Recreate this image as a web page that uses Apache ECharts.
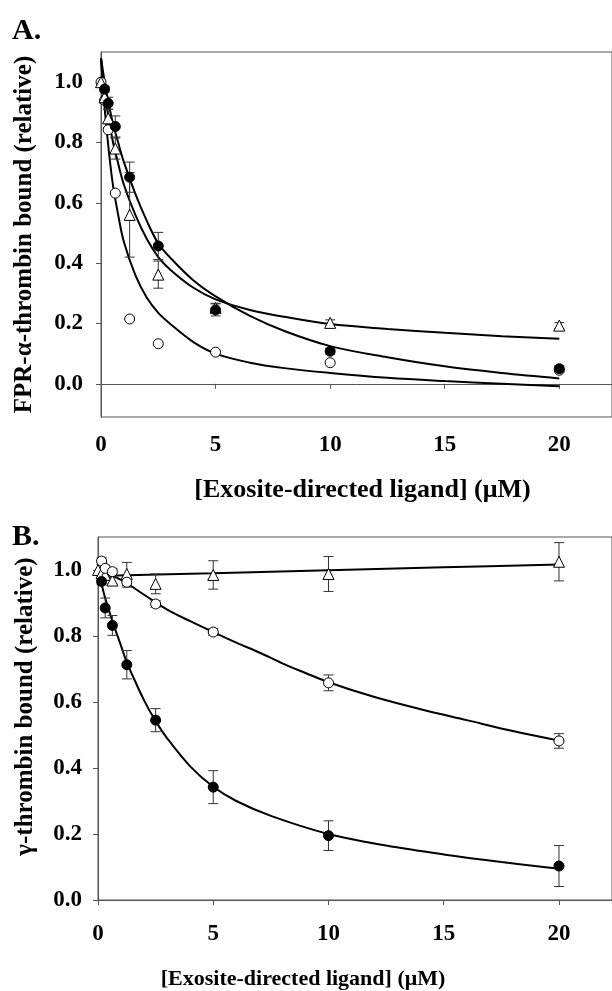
<!DOCTYPE html>
<html>
<head>
<meta charset="utf-8">
<script src="https://cdn.jsdelivr.net/npm/echarts@6/dist/echarts.min.js"></script>
<style>
html, body { margin: 0; padding: 0; background: #fff; }
#chart { width: 612px; height: 991px; }
</style>
</head>
<body>
<div id="chart"></div>
<script>
// ---- panel A : FPR-alpha-thrombin ----
const concA = [0, 0.156, 0.3125, 0.625, 1.25, 2.5, 5, 10, 20];
const filledA = [null, 0.977, 0.93, 0.853, 0.685, 0.457, 0.245, 0.108, 0.05];
const filledAErr = [0, 0.01, 0.02, 0.035, 0.05, 0.045, 0.02, 0.01, 0.01];
const openA = [1.0, 0.94, 0.842, 0.632, 0.215, 0.133, 0.105, 0.07, 0.045];
const triA = [1.0, 0.95, 0.88, 0.78, 0.56, 0.362, 0.252, 0.202, 0.193];
const triAErr = [0, 0.02, 0.03, 0.035, 0.14, 0.045, 0.015, 0.01, 0.01];

// fitted curves
const fitXA = [0, 0.1, 0.25, 0.5, 0.75, 1, 1.5, 2, 2.5, 3, 4, 5, 6.5, 8, 10, 12.5, 15, 17.5, 20];
const fitFilledA = [1.08, 1.03, 0.96, 0.87, 0.80, 0.735, 0.63, 0.54, 0.465, 0.42, 0.345, 0.29, 0.225, 0.175, 0.125, 0.088, 0.058, 0.036, 0.018];
const fitTriA = [1.08, 1.0, 0.92, 0.81, 0.73, 0.66, 0.56, 0.48, 0.42, 0.38, 0.32, 0.28, 0.245, 0.222, 0.198, 0.182, 0.169, 0.158, 0.149];
const fitOpenA = [1.08, 0.97, 0.84, 0.67, 0.56, 0.47, 0.36, 0.285, 0.235, 0.2, 0.14, 0.1, 0.07, 0.052, 0.036, 0.02, 0.009, 0.0, -0.008];

// ---- panel B : gamma-thrombin ----
const concB = [0, 0.156, 0.3125, 0.625, 1.25, 2.5, 5, 10, 20];
const filledB = [null, 0.965, 0.885, 0.832, 0.713, 0.545, 0.342, 0.195, 0.103];
const filledBErr = [0, 0.01, 0.03, 0.03, 0.043, 0.035, 0.05, 0.045, 0.062];
const openB = [null, 1.027, 1.005, 0.995, 0.963, 0.897, 0.812, 0.658, 0.482];
const openBErr = [0, 0.01, 0.01, 0.01, 0.015, 0.01, 0.01, 0.024, 0.022];
const triB = [1.0, 0.99, 0.985, 0.968, 0.988, 0.958, 0.985, 0.988, 1.025];
const triBErr = [0, 0.01, 0.01, 0.01, 0.035, 0.03, 0.043, 0.053, 0.058];

const fitXB = [0, 0.156, 0.3125, 0.625, 1, 1.25, 1.5, 2, 2.5, 3, 4, 5, 6, 7.5, 10, 12.5, 15, 17.5, 20];
const fitFilledB = [0.985, 0.955, 0.915, 0.845, 0.77, 0.72, 0.68, 0.605, 0.542, 0.49, 0.405, 0.343, 0.3, 0.255, 0.2, 0.165, 0.138, 0.115, 0.095];
const fitOpenXB = [0, 1, 2, 3, 4, 5, 6, 7, 8, 9, 10, 12, 14, 16, 18, 20];
const fitOpenB = [1.0, 0.97, 0.925, 0.88, 0.845, 0.812, 0.78, 0.75, 0.717, 0.688, 0.66, 0.615, 0.578, 0.545, 0.512, 0.483];
const fitTriXB = [0, 5, 10, 15, 20];
const fitTriB = [0.982, 0.99, 0.999, 1.008, 1.017];

const xTicks = [0, 5, 10, 15, 20];
const yTicks = [0, 0.2, 0.4, 0.6, 0.8, 1.0];

const font = 'Liberation Serif, Times New Roman, serif';

const pairs = (xs, ys) => xs.map((x, i) => [x, ys[i]]).filter(p => p[1] != null);

function scatter(xs, ys, idx, kind) {
  const open = kind !== 'filled';
  return {
    type: 'scatter',
    xAxisIndex: idx, yAxisIndex: idx,
    data: pairs(xs, ys),
    symbol: kind === 'tri' ? 'triangle' : 'circle',
    symbolSize: kind === 'tri' ? 11 : 10,
    itemStyle: {
      color: open ? '#fff' : '#000',
      borderColor: '#000',
      borderWidth: 1,
      opacity: 1
    },
    z: 5
  };
}

function errorBars(xs, ys, errs, idx) {
  return {
    type: 'custom',
    xAxisIndex: idx, yAxisIndex: idx,
    data: xs.map((x, i) => [x, ys[i], errs[i]]).filter(d => d[1] != null && d[2] > 0),
    encode: { x: 0, y: 1 },
    z: 4,
    renderItem: (params, api) => {
      const x = api.value(0), y = api.value(1), e = api.value(2);
      const hi = api.coord([x, y + e]);
      const lo = api.coord([x, y - e]);
      const w = 5;
      const style = { stroke: '#333', lineWidth: 1 };
      return {
        type: 'group',
        children: [
          { type: 'line', shape: { x1: hi[0], y1: hi[1], x2: lo[0], y2: lo[1] }, style },
          { type: 'line', shape: { x1: hi[0] - w, y1: hi[1], x2: hi[0] + w, y2: hi[1] }, style },
          { type: 'line', shape: { x1: lo[0] - w, y1: lo[1], x2: lo[0] + w, y2: lo[1] }, style }
        ]
      };
    }
  };
}

function curve(xs, ys, idx) {
  return {
    type: 'line',
    xAxisIndex: idx, yAxisIndex: idx,
    data: pairs(xs, ys),
    showSymbol: false,
    smooth: 0.35,
    lineStyle: { color: '#000', width: 2 },
    z: 3
  };
}

function xAxis(idx, nameGap, namePad, nameSize, labelMargin) {
  return {
    type: 'value', gridIndex: idx,
    min: 0, max: 22.3,
    name: '[Exosite-directed ligand] (\u03bcM)',
    nameLocation: 'middle',
    nameGap: nameGap,
    nameTextStyle: { fontFamily: font, fontWeight: 'bold', fontSize: nameSize, color: '#000', padding: namePad },
    axisLine: { lineStyle: { color: '#555', width: 1 } },
    axisTick: { inside: false, length: 5, customValues: xTicks, lineStyle: { color: '#555' } },
    axisLabel: { customValues: xTicks, margin: labelMargin, fontFamily: font, fontWeight: 'bold', fontSize: 23, color: '#000' },
    splitLine: { show: false }
  };
}

function yAxis(idx, min, name, nameGap, namePad, nameSize, labelMargin) {
  return {
    type: 'value', gridIndex: idx,
    min: min, max: 1.1,
    name: name,
    nameLocation: 'middle',
    nameGap: nameGap,
    nameTextStyle: { fontFamily: font, fontWeight: 'bold', fontSize: nameSize, color: '#000', padding: namePad },
    axisLine: { show: true, lineStyle: { color: '#555', width: 1 } },
    axisTick: { show: true, length: 5, customValues: yTicks, lineStyle: { color: '#555' } },
    axisLabel: {
      customValues: yTicks, margin: labelMargin,
      formatter: v => v.toFixed(1),
      fontFamily: font, fontWeight: 'bold', fontSize: 23, color: '#000'
    },
    splitLine: { show: false }
  };
}

const chart = echarts.init(document.getElementById('chart'));
chart.setOption({
  animation: false,
  backgroundColor: '#fff',
  grid: [
    { left: 101, top: 52, width: 513, height: 365, show: true, borderColor: '#555', borderWidth: 1 },
    { left: 98, top: 537, width: 516, height: 364, show: true, borderColor: '#555', borderWidth: 1 }
  ],
  xAxis: [
    xAxis(0, 60, [0, 0, 0, 12], 26, 17),
    xAxis(1, 68, [0, 104, 0, 0], 22, 23)
  ],
  yAxis: [
    yAxis(0, -0.11, 'FPR-\u03b1-thrombin bound (relative)', 64, 0, 25, 18),
    yAxis(1, 0, '\u03b3-thrombin bound (relative)', 60, [0, 0, 0, 24], 25, 16)
  ],
  graphic: [
    { type: 'text', left: 12, top: 16, style: { text: 'A.', font: 'bold 30px ' + font, fill: '#000' } },
    { type: 'text', left: 12, top: 522, style: { text: 'B.', font: 'bold 30px ' + font, fill: '#000' } }
  ],
  series: [
    curve(fitXA, fitFilledA, 0),
    curve(fitXA, fitTriA, 0),
    curve(fitXA, fitOpenA, 0),
    errorBars(concA, filledA, filledAErr, 0),
    errorBars(concA, triA, triAErr, 0),
    scatter(concA, openA, 0, 'open'),
    scatter(concA, triA, 0, 'tri'),
    scatter(concA, filledA, 0, 'filled'),

    curve(fitXB, fitFilledB, 1),
    curve(fitOpenXB, fitOpenB, 1),
    curve(fitTriXB, fitTriB, 1),
    errorBars(concB, filledB, filledBErr, 1),
    errorBars(concB, openB, openBErr, 1),
    errorBars(concB, triB, triBErr, 1),
    scatter(concB, triB, 1, 'tri'),
    scatter(concB, openB, 1, 'open'),
    scatter(concB, filledB, 1, 'filled')
  ]
});
</script>
</body>
</html>
